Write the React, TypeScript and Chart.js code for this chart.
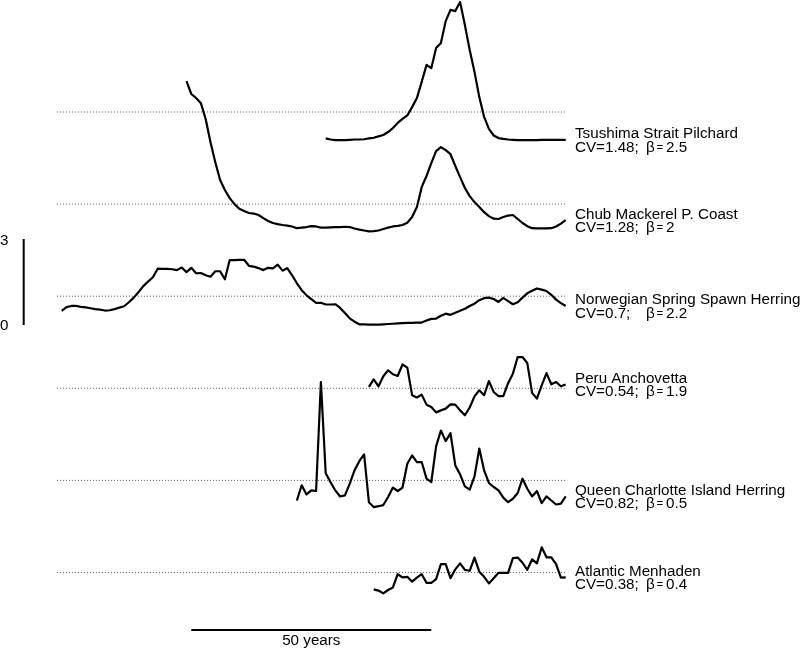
import React, { useEffect, useRef } from "react";
import { Chart, registerables } from "chart.js";

Chart.register(...registerables);

// ---------------- data ----------------
// values are deviations from each series' dotted reference line, in the units of the 0–3 scale bar
const FIRST_YEAR = 1895;
const LAST_YEAR = 2000;

const NAMES = [
  "Tsushima Strait Pilchard",
  "Chub Mackerel P. Coast",
  "Norwegian Spring Spawn Herring",
  "Peru Anchovetta",
  "Queen Charlotte Island Herring",
  "Atlantic Menhaden",
];
const CV_LABELS = ["CV=1.48;", "CV=1.28;", "CV=0.7;", "CV=0.54;", "CV=0.82;", "CV=0.38;"];
const BETA_VALUES = ["2.5", "2", "2.2", "1.9", "0.5", "0.4"];
const START_YEARS = [1950, 1921, 1895, 1959, 1944, 1960];

const TSUSHIMA = [
  -0.92, -0.96, -0.98, -0.98, -0.98, -0.97, -0.96, -0.96, -0.95, -0.92,
  -0.9, -0.85, -0.8, -0.7, -0.56, -0.38, -0.24, -0.12, 0.17, 0.49,
  1.05, 1.64, 1.53, 2.23, 2.41, 3.17, 3.56, 3.52, 3.84, 3.03,
  2.16, 1.4, 0.52, -0.17, -0.59, -0.82, -0.91, -0.94, -0.96, -0.97,
  -0.98, -0.98, -0.98, -0.98, -0.98, -0.97, -0.97, -0.97, -0.97, -0.97, -0.97,
];
const CHUB = [
  4.29, 3.84, 3.7, 3.52, 2.96, 2.16, 1.46, 0.84, 0.49, 0.21,
  0.0, -0.16, -0.24, -0.31, -0.33, -0.38, -0.49, -0.59, -0.66, -0.7,
  -0.73, -0.75, -0.78, -0.84, -0.82, -0.8, -0.77, -0.78, -0.82, -0.82,
  -0.81, -0.8, -0.8, -0.79, -0.8, -0.85, -0.89, -0.92, -0.95, -0.94,
  -0.92, -0.87, -0.82, -0.78, -0.76, -0.73, -0.65, -0.45, -0.1, 0.59,
  0.98, 1.43, 1.85, 1.99, 1.88, 1.74, 1.33, 0.94, 0.56, 0.28,
  0.07, -0.1, -0.28, -0.42, -0.51, -0.52, -0.45, -0.4, -0.38, -0.52,
  -0.66, -0.77, -0.84, -0.85, -0.85, -0.85, -0.84, -0.78, -0.68, -0.56,
];
const NORWEGIAN = [
  -0.51, -0.38, -0.34, -0.34, -0.37, -0.39, -0.42, -0.45, -0.47, -0.5,
  -0.49, -0.45, -0.4, -0.35, -0.21, -0.05, 0.14, 0.35, 0.51, 0.66,
  0.96, 0.95, 0.95, 0.94, 0.91, 1.0, 0.84, 0.99, 0.8, 0.81,
  0.73, 0.68, 0.87, 0.87, 0.59, 1.26, 1.26, 1.27, 1.27, 1.06,
  1.03, 0.98, 0.91, 0.99, 0.97, 1.1, 0.89, 0.98, 0.73, 0.45,
  0.21, 0.03, -0.1, -0.23, -0.23, -0.29, -0.29, -0.28, -0.41, -0.59,
  -0.77, -0.89, -0.98, -0.98, -0.99, -0.99, -0.99, -0.98, -0.97, -0.96,
  -0.95, -0.94, -0.93, -0.93, -0.92, -0.92, -0.85, -0.79, -0.78, -0.68,
  -0.61, -0.65, -0.58, -0.51, -0.44, -0.34, -0.26, -0.14, -0.07, -0.05,
  -0.1, -0.2, -0.06, -0.17, -0.28, -0.21, -0.05, 0.1, 0.19, 0.27,
  0.23, 0.18, 0.05, -0.12, -0.24, -0.34,
];
const PERU = [
  0.05, 0.31, 0.07, 0.42, 0.63, 0.49, 0.43, 0.83, 0.72, -0.24,
  -0.32, -0.22, -0.57, -0.65, -0.84, -0.77, -0.71, -0.56, -0.57, -0.77,
  -0.94, -0.67, -0.28, -0.07, -0.24, 0.25, -0.13, -0.27, -0.27, 0.18,
  0.51, 1.09, 1.09, 0.88, -0.16, -0.36, 0.1, 0.53, 0.14, 0.22,
  0.07, 0.13,
];
const QUEEN_CHARLOTTE = [
  -0.7, -0.17, -0.49, -0.35, -0.37, 3.43, 0.25, -0.06, -0.35, -0.56,
  -0.52, -0.12, 0.35, 0.67, 0.91, -0.76, -0.93, -0.9, -0.86, -0.58,
  -0.25, -0.37, -0.25, 0.58, 0.87, 0.64, 0.64, 0.06, -0.06, 1.19,
  1.74, 1.37, 1.65, 0.52, 0.21, -0.21, -0.32, 0.14, 1.11, 0.35,
  -0.09, -0.23, -0.35, -0.6, -0.76, -0.64, -0.44, 0.06, -0.29, -0.56,
  -0.37, -0.79, -0.56, -0.7, -0.84, -0.81, -0.56,
];
const ATLANTIC = [
  -0.59, -0.63, -0.73, -0.61, -0.52, -0.06, -0.17, -0.15, -0.32, -0.18,
  -0.06, -0.36, -0.36, -0.23, 0.29, 0.29, -0.2, 0.11, 0.32, 0.09,
  0.06, 0.52, 0.03, -0.15, -0.38, -0.2, -0.01, -0.01, -0.01, 0.5,
  0.52, 0.34, 0.09, 0.46, 0.32, 0.88, 0.53, 0.53, 0.29, -0.18,
  -0.17,
];
const SERIES = [TSUSHIMA, CHUB, NORWEGIAN, PERU, QUEEN_CHARLOTTE, ATLANTIC];

const SCALE_BAR_VALUES = [0, 3];
const SCALE_BAR_LABELS = ["0", "3"];
const TIME_BAR_YEARS = [1922, 1972];
const TIME_BAR_LABEL = "50 years";
const REF_LINE_YEARS = [1894, LAST_YEAR];

// ---------------- layout ----------------
const W = 802;
const H = 650;
const PX_PER_YEAR = 4.8;
const PX_PER_UNIT = 28.67;
const FIRST_YEAR_PX = 61.7;
const XMIN = FIRST_YEAR - FIRST_YEAR_PX / PX_PER_YEAR;
const XMAX = XMIN + W / PX_PER_YEAR;
const YMAX = 0;
const YMIN = -H / PX_PER_UNIT;
const rowBase = (i: number) => -(112 + 92.1 * i) / PX_PER_UNIT;
const SCALE_BAR_BASE = -325 / PX_PER_UNIT;
const SCALE_BAR_YEAR = XMIN + 23.7 / PX_PER_YEAR;
const TIME_BAR_LEVEL = -630 / PX_PER_UNIT;
const FONT = "Liberation Sans, Arial, Helvetica, sans-serif";
const FS = 15.2;

const labelPlugin = {
  id: "labels",
  afterDatasetsDraw(chart: any) {
    const ctx = chart.ctx;
    const xs = chart.scales.x;
    const ys = chart.scales.y;
    ctx.save();
    ctx.fillStyle = "#000";
    ctx.textBaseline = "alphabetic";
    ctx.textAlign = "left";
    ctx.font = `${FS}px ${FONT}`;
    SERIES.forEach((s, i) => {
      const meta = chart.getDatasetMeta(i);
      const last = meta.data[meta.data.length - 1];
      const y = last.y;
      const x0 = 575;
      ctx.font = `${FS}px ${FONT}`;
      ctx.fillText(NAMES[i], x0, y - 1.6);
      ctx.fillText(CV_LABELS[i], x0, y + 11.8);
      ctx.fillText("β", 646, y + 11.8);
      ctx.font = `${FS * 0.75}px ${FONT}`;
      ctx.fillText("=", 656.5, y + 10.8);
      ctx.font = `${FS}px ${FONT}`;
      ctx.fillText(BETA_VALUES[i], 666, y + 11.8);
    });
    // vertical scale labels
    ctx.font = `${FS}px ${FONT}`;
    SCALE_BAR_VALUES.forEach((v, j) => {
      const py = ys.getPixelForValue(SCALE_BAR_BASE + v);
      ctx.fillText(SCALE_BAR_LABELS[j], 0, py + (v === 0 ? 5 : 6));
    });
    // time bar label
    const cx = (xs.getPixelForValue(TIME_BAR_YEARS[0]) + xs.getPixelForValue(TIME_BAR_YEARS[1])) / 2;
    const by = ys.getPixelForValue(TIME_BAR_LEVEL);
    ctx.textAlign = "center";
    ctx.fillText(TIME_BAR_LABEL, cx, by + 15);
    ctx.restore();
  },
};

export default function App() {
  const ref = useRef<HTMLCanvasElement | null>(null);
  useEffect(() => {
    if (!ref.current) return;
    const seriesSets = SERIES.map((vals, i) => ({
      label: NAMES[i],
      data: vals.map((v, k) => ({ x: START_YEARS[i] + k, y: rowBase(i) + v })),
      borderColor: "#000",
      borderWidth: 2.2,
      borderJoinStyle: "round",
      pointRadius: 0,
      tension: 0,
      fill: false,
      order: 0,
    }));
    const refSets = SERIES.map((_, i) => ({
      label: "ref" + i,
      data: REF_LINE_YEARS.map((yr) => ({ x: yr, y: rowBase(i) })),
      borderColor: "#555",
      borderWidth: 1,
      borderDash: [1, 2],
      pointRadius: 0,
      fill: false,
      order: 1,
    }));
    const scaleBar = {
      label: "scale",
      data: SCALE_BAR_VALUES.map((v) => ({ x: SCALE_BAR_YEAR, y: SCALE_BAR_BASE + v })),
      borderColor: "#000",
      borderWidth: 2,
      pointRadius: 0,
      fill: false,
    };
    const timeBar = {
      label: "time",
      data: TIME_BAR_YEARS.map((yr) => ({ x: yr, y: TIME_BAR_LEVEL })),
      borderColor: "#000",
      borderWidth: 2,
      pointRadius: 0,
      fill: false,
    };
    const chart = new Chart(ref.current, {
      type: "line",
      data: { datasets: [...seriesSets, ...refSets, scaleBar, timeBar] as any },
      options: {
        animation: false,
        responsive: false,
        maintainAspectRatio: false,
        layout: { padding: 0 },
        events: [],
        plugins: { legend: { display: false }, tooltip: { enabled: false }, title: { display: false } },
        scales: {
          x: { type: "linear", min: XMIN, max: XMAX, display: false },
          y: { type: "linear", min: YMIN, max: YMAX, display: false },
        },
      },
      plugins: [labelPlugin],
    });
    return () => chart.destroy();
  }, []);
  return (
    <div style={{ position: "absolute", left: 0, top: 0, width: W, height: H, background: "#fff" }}>
      <canvas ref={ref} width={W} height={H} style={{ width: W, height: H }} />
    </div>
  );
}
